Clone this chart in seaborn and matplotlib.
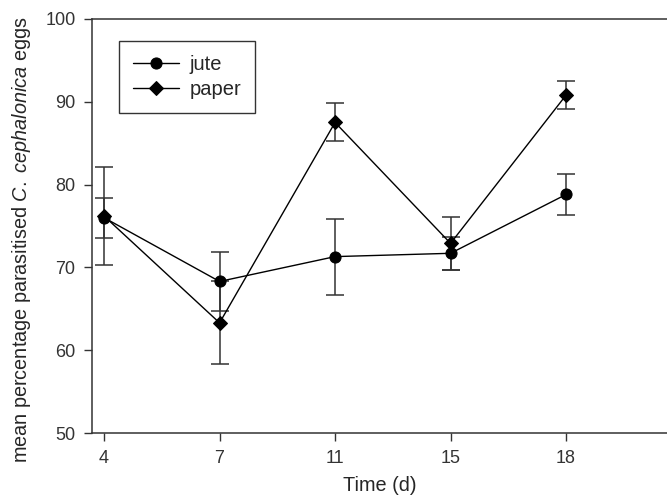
import numpy as np
import pandas as pd
import matplotlib
matplotlib.use("Agg")
import matplotlib.pyplot as plt
import seaborn as sns

# data
days = ["4", "7", "11", "15", "18"]
jute_mean = [76.0, 68.3, 71.3, 71.7, 78.8]
jute_err = [2.4, 3.6, 4.6, 2.0, 2.45]
paper_mean = [76.2, 63.3, 87.5, 72.9, 90.8]
paper_err = [5.9, 5.0, 2.3, 3.2, 1.7]

sns.set_theme(style="ticks")
plt.rcParams.update({
    'font.family': ['Liberation Sans', 'DejaVu Sans'],
    'font.size': 13,
    'mathtext.fontset': 'custom',
    'mathtext.rm': 'Liberation Sans',
    'mathtext.it': 'Liberation Sans:italic',
    'axes.edgecolor': '#333333',
    'xtick.color': '#333333',
    'ytick.color': '#333333',
})

pos = np.arange(len(days))
df = pd.DataFrame({
    'pos': np.concatenate([pos, pos]),
    'value': jute_mean + paper_mean,
    'err': jute_err + paper_err,
    'material': ['jute'] * len(days) + ['paper'] * len(days),
})

fig = plt.figure(figsize=(6.67, 4.98), dpi=100)
ax = fig.add_axes([0.138, 0.1305, 0.862, 0.8315])

markers = {'jute': 'o', 'paper': 'D'}
msize = {'jute': 8, 'paper': 7}
for name, sub in df.groupby('material'):
    ax.errorbar(sub['pos'], sub['value'], yerr=sub['err'], fmt='none',
                ecolor='#333333', elinewidth=1.1, capsize=6.5, capthick=1.1, zorder=2)
    sns.lineplot(data=sub, x='pos', y='value', ax=ax, color='black', lw=1.0,
                 marker=markers[name], markersize=msize[name], markeredgecolor='black',
                 label=name, zorder=3)

ax.set_xlim(-0.104, 4.874)
ax.set_ylim(50, 100)
ax.set_xticks(pos)
ax.set_xticklabels(days)
ax.set_yticks(np.arange(50, 101, 10))
ax.tick_params(axis='both', direction='out', length=6, width=1, labelsize=13, pad=6)
ax.spines['right'].set_visible(False)
for s in ['left', 'bottom', 'top']:
    ax.spines[s].set_linewidth(1.1)

ax.set_xlabel('Time (d)', fontsize=14.3, labelpad=7)
ax.set_ylabel('mean percentage parasitised $\\it{C.\\ cephalonica}$ eggs', fontsize=14.3)
ax.yaxis.set_label_coords(-0.102, 0.466)

leg = ax.legend(loc='upper left', bbox_to_anchor=(0.047, 0.947), frameon=True,
                fancybox=False, edgecolor='black', fontsize=14.5, handlelength=2.3,
                borderpad=0.7, labelspacing=0.3, handletextpad=0.5, borderaxespad=0)
leg.get_frame().set_linewidth(1.0)

fig.savefig('out.png', dpi=100)
